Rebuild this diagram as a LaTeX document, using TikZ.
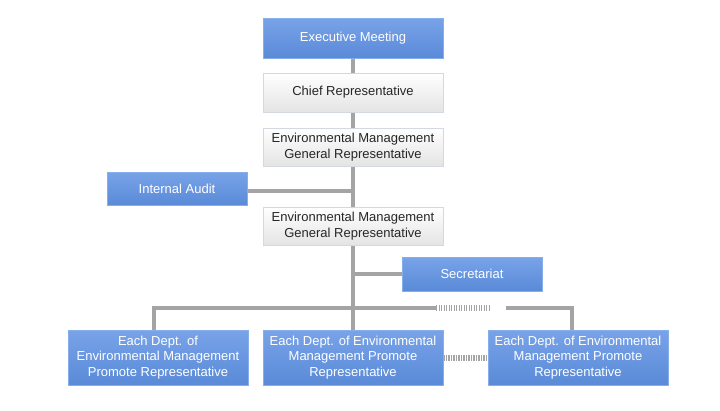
\documentclass[tikz,border=0pt]{standalone}
\usepackage{fontspec}
\setmainfont{Liberation Sans}
\usepackage{tikz}
\usetikzlibrary{backgrounds}
\definecolor{boxblue}{HTML}{5A8AD8}
\definecolor{boxbluetop}{HTML}{78A3E8}
\definecolor{boxblueedge}{HTML}{86AEEA}
\definecolor{boxgray}{HTML}{E4E4E4}
\definecolor{boxgrayedge}{HTML}{D4D8E0}
\definecolor{linkgray}{HTML}{A4A4A4}
\tikzset{
  bluebox/.style={draw=boxblueedge,line width=0.8pt,top color=boxbluetop,bottom color=boxblue,
    text=white,minimum width=180pt,align=center,font=\fontsize{13}{15.5}\selectfont,inner sep=0pt},
  whitebox/.style={draw=boxgrayedge,line width=0.8pt,top color=white,bottom color=boxgray,
    text=black!85,minimum width=180pt,align=center,font=\fontsize{13}{15.5}\selectfont,inner sep=0pt},
  link/.style={draw=linkgray,line width=4pt},
  dotlink/.style={draw=linkgray,line width=6pt,dash pattern=on 1.2pt off 1.3pt}
}
\begin{document}
\begin{tikzpicture}[x=1pt,y=-1pt]
\useasboundingbox (0,0) rectangle (720,410);
\coordinate (busL) at (154,308);
\coordinate (dotA) at (436,308);
\coordinate (dotB) at (490,308);
\coordinate (busR) at (506,308);
\coordinate (busE) at (572,308);
\node[bluebox,minimum height=40pt] (exec) at (353,38) {Executive Meeting};
\node[whitebox,minimum height=39pt] (chief) at (353,92.5) {Chief Representative};
\node[whitebox,minimum height=38pt] (gen1) at (353,147) {Environmental Management\\General Representative};
\node[bluebox,minimum width=140pt,minimum height=33pt] (audit) at (177,188.5) {Internal Audit};
\node[whitebox,minimum height=38pt] (gen2) at (353,226) {Environmental Management\\General Representative};
\node[bluebox,minimum width=140pt,minimum height=34pt] (secr) at (472,274) {Secretariat};
\node[bluebox,minimum height=55pt] (dept1) at (158,357.5) {Each Dept. of\\Environmental Management\\Promote Representative};
\node[bluebox,minimum height=55pt] (dept2) at (353,357.5) {Each Dept. of Environmental\\Management Promote\\Representative};
\node[bluebox,minimum height=55pt] (dept3) at (578,357.5) {Each Dept. of Environmental\\Management Promote\\Representative};
% lines go behind the boxes
\begin{scope}[on background layer]
\fill[white] (0,0) rectangle (720,410);
\draw[link] (exec.south) -- (chief.north);
\draw[link] (chief.south) -- (gen1.north);
\draw[link] (gen1.south) -- (gen2.north);
\draw[link] ([yshift=-2.5pt]audit.east) -- ([yshift=-2.5pt]audit.east -| gen1.south);
\draw[link] (gen2.south) -- (dept2.north);
\draw[link] (secr.west) -- (secr.west -| gen2.south);
\draw[link] (dept1.north -| busL) -- (busL) -- (dotA);
\draw[dotlink] (dotA) -- (dotB);
\draw[link] (busR) -- (busE) -- (busE |- dept3.north);
\draw[dotlink] (dept2.east) -- (dept3.west);
\end{scope}
\end{tikzpicture}
\end{document}
